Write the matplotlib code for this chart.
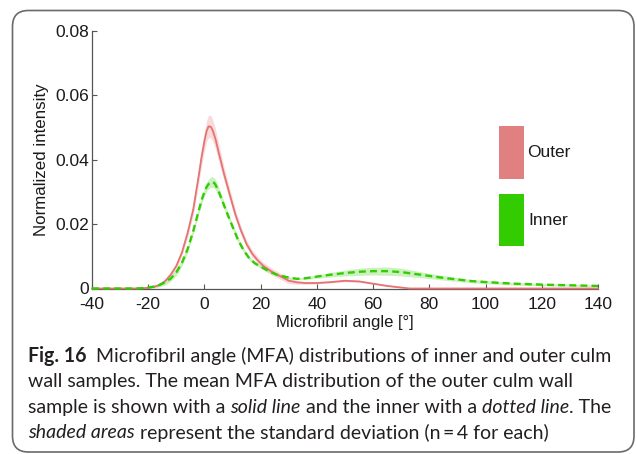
import matplotlib
matplotlib.use("Agg")
import matplotlib.pyplot as plt
from matplotlib.patches import Rectangle, FancyBboxPatch

# ---------------- data ----------------
outer_angle = [-40, -25, -22, -20, -18, -16, -14, -12, -10, -8, -6, -4, -2, -1, 0, 0.8, 1.5, 2.3,
               3, 4, 5, 7, 9, 11, 13, 15, 17, 19, 21, 24, 27, 30, 33, 36, 40, 45, 50, 55, 60,
               65, 70, 73, 80, 140]
outer_mean = [0, 0, 0.0001, 0.0002, 0.0005, 0.0011, 0.0023, 0.0043, 0.0070, 0.0112, 0.0172,
              0.0245, 0.0352, 0.0410, 0.0458, 0.0490, 0.0504, 0.0502, 0.0490, 0.0462, 0.0425,
              0.0355, 0.0292, 0.0230, 0.0180, 0.0138, 0.0108, 0.0087, 0.0070, 0.0052, 0.0038,
              0.0024, 0.0019, 0.0017, 0.0017, 0.0020, 0.0024, 0.0022, 0.0015, 0.0008, 0.0003,
              0.0, 0.0, 0.0]
outer_std = [0, 0, 0.0001, 0.0001, 0.0002, 0.0003, 0.0005, 0.0007, 0.0009, 0.0011, 0.0014,
             0.0018, 0.0024, 0.0027, 0.0030, 0.0033, 0.0035, 0.0035, 0.0034, 0.0031, 0.0028,
             0.0022, 0.0018, 0.0015, 0.0013, 0.0012, 0.0011, 0.0011, 0.0011, 0.0011, 0.0010,
             0.0009, 0.0006, 0.0004, 0.0003, 0.0003, 0.0003, 0.0003, 0.0002, 0.0002, 0.0001,
             0.0, 0.0, 0.0]

inner_angle = [-40, -24, -22, -20, -18, -16, -14, -12, -10, -8, -6, -4, -2, -1, 0, 0.8, 1.5, 2.2,
               2.8, 3.5, 4, 5, 6, 8, 10, 12, 14, 16, 18, 20, 23, 26, 30, 33, 36, 40, 45, 50, 55,
               60, 65, 70, 75, 80, 85, 90, 95, 100, 110, 120, 130, 140]
inner_mean = [0, 0, 0.0001, 0.0003, 0.0006, 0.0011, 0.0019, 0.0031, 0.0050, 0.0080, 0.0122,
              0.0178, 0.0243, 0.0275, 0.0300, 0.0316, 0.0325, 0.0330, 0.0331, 0.0328, 0.0321,
              0.0303, 0.0280, 0.0235, 0.0192, 0.0150, 0.0118, 0.0093, 0.0078, 0.0068, 0.0053,
              0.0042, 0.0034, 0.0030, 0.0032, 0.0037, 0.0043, 0.0048, 0.0052, 0.0054, 0.0054,
              0.0051, 0.0045, 0.0039, 0.0033, 0.0028, 0.0023, 0.0020, 0.0015, 0.0012, 0.0010,
              0.0008]
inner_std = [0, 0, 0.0001, 0.0002, 0.0004, 0.0006, 0.0008, 0.0009, 0.0010, 0.0010, 0.0010,
             0.0010, 0.0011, 0.0012, 0.0013, 0.0014, 0.0015, 0.0016, 0.0016, 0.0016, 0.0015,
             0.0014, 0.0012, 0.0010, 0.0009, 0.0008, 0.0007, 0.0006, 0.0005, 0.0005, 0.0004,
             0.0004, 0.0003, 0.0003, 0.0004, 0.0005, 0.0007, 0.0009, 0.0011, 0.0012, 0.0013,
             0.0012, 0.0010, 0.0008, 0.0007, 0.0006, 0.0005, 0.0005, 0.0004, 0.0004, 0.0003,
             0.0003]

x_ticks = [-40, -20, 0, 20, 40, 60, 80, 100, 120, 140]
y_ticks = [0, 0.02, 0.04, 0.06, 0.08]
y_tick_labels = ["0", "0.02", "0.04", "0.06", "0.08"]
series_labels = ["Outer", "Inner"]

caption_lines = [
    [("Fig. 16", "bold"), ("  Microfibril angle (MFA) distributions of inner and outer culm", "normal")],
    [("wall samples. The mean MFA distribution of the outer culm wall", "normal")],
    [("sample is shown with a ", "normal"), ("solid line", "italic"),
     (" and the inner with a ", "normal"), ("dotted line", "italic"), (". The", "normal")],
    [("shaded areas", "italic"), (" represent the standard deviation (n\u2009=\u20094 for each)", "normal")],
]

# ---------------- style ----------------
RED = "#E47373"
RED_FILL = "#EE9A9A"
RED_PATCH = "#E08080"
GREEN = "#33CC00"
GREEN_FILL = "#7FDC60"
TXT = "#1a1a1a"

plt.rcParams["axes.unicode_minus"] = False
plt.rcParams["lines.scale_dashes"] = False
plt.rcParams["font.family"] = ["Liberation Sans", "DejaVu Sans"]

W, H = 637, 454
fig = plt.figure(figsize=(W / 100, H / 100), dpi=100)
fig.patch.set_facecolor("white")

# outer rounded frame
frame = FancyBboxPatch((12.5 / W, 1 - 452 / H), (634 - 12.5) / W, (452 - 10.5) / H,
                       boxstyle="round,pad=0,rounding_size=0.025",
                       transform=fig.transFigure, facecolor="none",
                       edgecolor="#6a6a6a", linewidth=1.2, mutation_aspect=W / H)
fig.add_artist(frame)

ax = fig.add_axes([92 / W, 1 - 288.5 / H, (598 - 92) / W, (288.5 - 31) / H])

lo_o = [m - s for m, s in zip(outer_mean, outer_std)]
hi_o = [m + s for m, s in zip(outer_mean, outer_std)]
lo_i = [m - s for m, s in zip(inner_mean, inner_std)]
hi_i = [m + s for m, s in zip(inner_mean, inner_std)]

ax.fill_between(outer_angle, lo_o, hi_o, color=RED_FILL, alpha=0.35, linewidth=0)
ax.fill_between(inner_angle, lo_i, hi_i, color=GREEN_FILL, alpha=0.4, linewidth=0)
ax.plot(outer_angle, outer_mean, color=RED, linewidth=1.3, clip_on=False, zorder=3,
        solid_joinstyle="round")
ax.plot(inner_angle, inner_mean, color=GREEN, linewidth=1.7, dashes=(5, 3),
        clip_on=False, zorder=4)

ax.set_xlim(-40, 140)
ax.set_ylim(0, 0.08)
ax.set_xticks(x_ticks)
ax.set_xticklabels([str(t) for t in x_ticks])
ax.set_yticks(y_ticks)
ax.set_yticklabels(y_tick_labels)
for s in ["top", "right"]:
    ax.spines[s].set_visible(False)
for s in ["left", "bottom"]:
    ax.spines[s].set_color("#555555")
    ax.spines[s].set_linewidth(0.9)
ax.tick_params(direction="in", length=3.5, width=0.8, color="#555555",
               labelsize=12.5, labelcolor=TXT)
ax.tick_params(axis="x", pad=6)
ax.tick_params(axis="y", pad=2)
ax.set_xlabel("Microfibril angle [\u00b0]", fontsize=12, color=TXT, labelpad=2)
ax.set_ylabel("Normalized intensity", fontsize=12.2, color=TXT, labelpad=5)
ax.patch.set_alpha(0)

# legend: coloured blocks with labels
leg_boxes = [(126, 179), (194, 246.5)]
leg_colors = [RED_PATCH, GREEN]
leg_text_x = [527, 528]
for (top, bot), col, lab, tx in zip(leg_boxes, leg_colors, series_labels, leg_text_x):
    fig.add_artist(Rectangle((499 / W, 1 - bot / H), 25 / W, (bot - top) / H,
                             transform=fig.transFigure, facecolor=col, edgecolor="none"))
    fig.text(tx / W, 1 - (top + bot) / 2 / H, lab, fontsize=12.5, color=TXT,
             ha="left", va="center")

# ---------------- caption ----------------
cap_font = ["Lato", "DejaVu Sans"]
renderer = fig.canvas.get_renderer()


def seg_width(txt, style, size):
    kw = dict(fontsize=size, family=cap_font)
    if style == "bold":
        kw["fontweight"] = "bold"
    elif style == "italic":
        kw["fontstyle"] = "italic"
    t = fig.text(0, 0, txt, **kw)
    w = t.get_window_extent(renderer).width
    t.remove()
    return w, kw


# fit size so that the first line spans the width seen in the reference
size = 12.0
w1 = sum(seg_width(t, s, size)[0] for t, s in caption_lines[0])
size = size * 582.0 / w1

baselines = [362, 387.5, 413, 438.5]
x_start = 28
for line, yb in zip(caption_lines, baselines):
    x = x_start
    for txt, style in line:
        w, kw = seg_width(txt, style, size)
        fig.text(x / W, 1 - yb / H, txt, color="#231f20", va="baseline", ha="left", **kw)
        x += w

fig.savefig("out.png", dpi=100, facecolor="white")
